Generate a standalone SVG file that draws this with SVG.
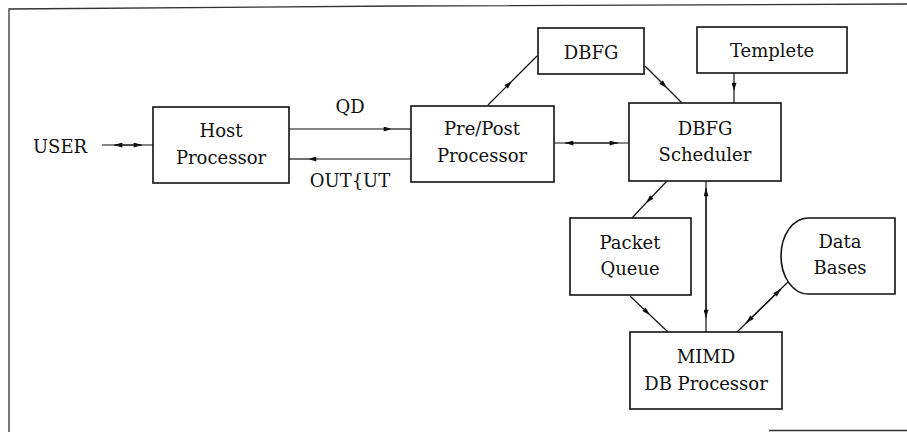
<svg xmlns="http://www.w3.org/2000/svg" width="907" height="432" viewBox="0 0 907 432">
<style>
.box{fill:#fff;stroke:#111;stroke-width:1.6}
.ln{fill:none;stroke:#111;stroke-width:1.2}
.frame{fill:none;stroke:#333;stroke-width:1.3}
text{font-family:"DejaVu Serif","Liberation Serif",serif;font-size:18px;fill:#111;text-anchor:middle}
</style>
<defs>
<marker id="ah" viewBox="0 0 10 6" refX="10" refY="3" markerUnits="userSpaceOnUse" markerWidth="9" markerHeight="5" orient="auto">
<path d="M0,0 L10,3 L0,6 Z" fill="#111"/>
</marker>
</defs>
<rect width="907" height="432" fill="#fff"/>
<path class="frame" d="M9,432 L9,9 L400,6 L907,4"/>
<path class="frame" d="M769,430.5 H907"/>

<g id="connectors">
<path class="ln" d="M153,145 L114,145" marker-end="url(#ah)"/>
<path class="ln" d="M102,145 L142,145" marker-end="url(#ah)"/>
<path class="ln" d="M289,129 L392,129" marker-end="url(#ah)"/>
<path class="ln" d="M392,129 L411,129"/>
<path class="ln" d="M411,159 L308,159" marker-end="url(#ah)"/>
<path class="ln" d="M308,159 L289,159"/>
<path class="ln" d="M629,143 L565,143" marker-end="url(#ah)"/>
<path class="ln" d="M554,143 L618,143" marker-end="url(#ah)"/>
<path class="ln" d="M488,105 L512,81" marker-end="url(#ah)"/>
<path class="ln" d="M512,81 L537,56"/>
<path class="ln" d="M645,66 L667,88" marker-end="url(#ah)"/>
<path class="ln" d="M667,88 L682,103"/>
<path class="ln" d="M734,73 L734,91" marker-end="url(#ah)"/>
<path class="ln" d="M734,91 L734,103"/>
<path class="ln" d="M667,181 L646,203" marker-end="url(#ah)"/>
<path class="ln" d="M646,203 L632,218"/>
<path class="ln" d="M706,332 L706,188" marker-end="url(#ah)"/>
<path class="ln" d="M706,181 L706,318" marker-end="url(#ah)"/>
<path class="ln" d="M630,296 L650,315" marker-end="url(#ah)"/>
<path class="ln" d="M650,315 L668,332"/>
<path class="ln" d="M737,332 L781,289" marker-end="url(#ah)"/>
<path class="ln" d="M788,282 L746,323" marker-end="url(#ah)"/>
</g>

<g id="user"><text x="60" y="153">USER</text></g>
<g id="qd-label"><text x="350" y="113">QD</text></g>
<g id="output-label"><text x="350" y="187">OUT{UT</text></g>

<g id="host">
<rect class="box" x="153" y="107" width="136" height="76"/>
<text x="221" y="137">Host</text>
<text x="221" y="164">Processor</text>
</g>
<g id="prepost">
<rect class="box" x="411" y="106" width="143" height="76"/>
<text x="482" y="135">Pre/Post</text>
<text x="482" y="162">Processor</text>
</g>
<g id="dbfg">
<rect class="box" x="538" y="28" width="106" height="46"/>
<text x="591" y="59">DBFG</text>
</g>
<g id="templete">
<rect class="box" x="697" y="27" width="150" height="46"/>
<text x="772" y="57">Templete</text>
</g>
<g id="scheduler">
<rect class="box" x="629" y="103" width="152" height="78"/>
<text x="705" y="135">DBFG</text>
<text x="705" y="161">Scheduler</text>
</g>
<g id="packetqueue">
<rect class="box" x="570" y="218" width="121" height="77"/>
<text x="630" y="249">Packet</text>
<text x="630" y="275">Queue</text>
</g>
<g id="databases">
<path class="box" d="M808,218 H895 V294 H808 A27,38 0 0 1 808,218 Z"/>
<text x="840" y="248">Data</text>
<text x="840" y="274">Bases</text>
</g>
<g id="mimd">
<rect class="box" x="630" y="332" width="152" height="77"/>
<text x="706" y="363">MIMD</text>
<text x="706" y="390">DB Processor</text>
</g>
</svg>
